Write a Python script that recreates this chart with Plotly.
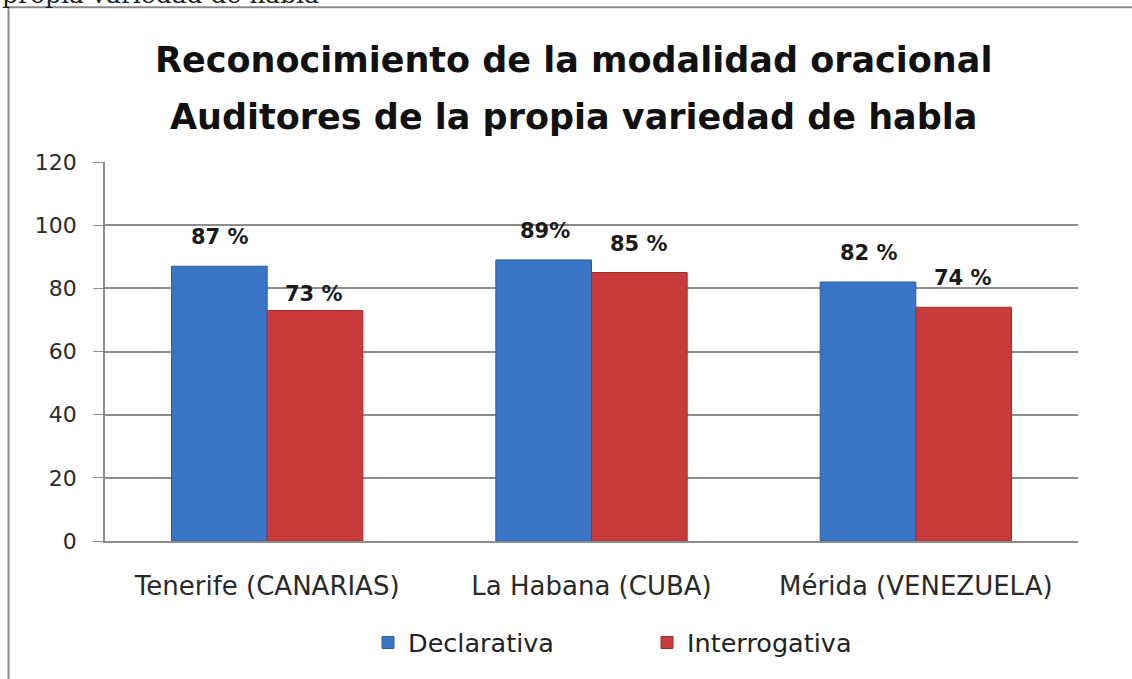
import plotly.graph_objects as go

categories = ["Tenerife (CANARIAS)", "La Habana (CUBA)", "Mérida (VENEZUELA)"]
declarativa = [87, 89, 82]
interrogativa = [73, 85, 74]
decl_labels = ["87 %", "89%", "82 %"]
inter_labels = ["73 %", "85 %", "74 %"]
y_ticks = [0, 20, 40, 60, 80, 100, 120]

W, H = 1132, 679
L, T = 105, 162
pw, ph = 1078 - 105, 545 - 162
R, B = W - L - pw, H - T - ph

def px_x(p):
    return (p - L) / pw

def px_y(p):
    return 1 - (p - T) / ph

LABEL_FONT = dict(family="DejaVu Sans", size=21, color="#1a1a1a")

fig = go.Figure()
fig.add_trace(go.Bar(name="Declarativa", x=categories, y=declarativa,
                     marker=dict(color="#3a75c6", line=dict(color="#2d5e9f", width=1))))
fig.add_trace(go.Bar(name="Interrogativa", x=categories, y=interrogativa,
                     marker=dict(color="#c93b3b", line=dict(color="#9c2e2e", width=1))))

inter_shift = [16, 29, 29]
annotations = []
for cat, v, t in zip(categories, declarativa, decl_labels):
    annotations.append(dict(x=cat, y=v, text="<b>" + t + "</b>", showarrow=False, xshift=-47, yshift=29,
                            font=LABEL_FONT, yanchor="middle"))
for cat, v, t, s in zip(categories, interrogativa, inter_labels, inter_shift):
    annotations.append(dict(x=cat, y=v, text="<b>" + t + "</b>", showarrow=False, xshift=47, yshift=s,
                            font=LABEL_FONT, yanchor="middle"))

TITLE_FONT = dict(family="DejaVu Sans", size=35, color="#111")
annotations.append(dict(xref="paper", yref="paper", x=px_x(573), y=px_y(59),
                        text="<b>Reconocimiento de la modalidad oracional</b>", showarrow=False,
                        font=TITLE_FONT, xanchor="center", yanchor="middle"))
annotations.append(dict(xref="paper", yref="paper", x=px_x(573), y=px_y(117),
                        text="<b>Auditores de la propia variedad de habla</b>", showarrow=False,
                        font=TITLE_FONT, xanchor="center", yanchor="middle"))
annotations.append(dict(xref="paper", yref="paper", x=px_x(0), y=px_y(-7),
                        text="propia variedad de habla", showarrow=False,
                        font=dict(family="DejaVu Serif", size=25, color="#222"), xanchor="left", yanchor="middle"))

fig.update_layout(
    width=W, height=H,
    margin=dict(l=L, r=R, t=T, b=B),
    paper_bgcolor="white", plot_bgcolor="white",
    barmode="group", bargap=0.41, bargroupgap=0,
    showlegend=True,
    legend=dict(orientation="h", x=px_x(368), y=px_y(648), xanchor="left", yanchor="middle",
                font=dict(family="DejaVu Sans", size=25.5, color="#222"),
                entrywidth=234, bgcolor="rgba(0,0,0,0)"),
    annotations=annotations,
    shapes=[dict(type="rect", xref="paper", yref="paper",
                 x0=px_x(8.5), x1=px_x(1250), y0=px_y(900), y1=px_y(5.5),
                 line=dict(color="#8a8a8a", width=2), layer="below")],
    font=dict(family="DejaVu Sans"),
)
fig.update_yaxes(range=[0, 120], tickvals=y_ticks, showgrid=True, gridcolor="#8c8c8c", gridwidth=1.5,
                 showline=True, linecolor="#8c8c8c", linewidth=1.5, ticks="outside", ticklen=10,
                 tickcolor="#8c8c8c", ticklabelstandoff=12,
                 tickfont=dict(family="DejaVu Sans", size=22, color="#2a2a2a"), zeroline=False)
fig.update_xaxes(showline=True, linecolor="#8c8c8c", linewidth=1.5, ticks="", ticklabelstandoff=21,
                 tickfont=dict(family="DejaVu Sans", size=26, color="#2a2a2a"))

fig.write_html("out.html", config={"displayModeBar": False},
               post_script="document.body.style.margin='0px';document.body.style.overflow='hidden';")
